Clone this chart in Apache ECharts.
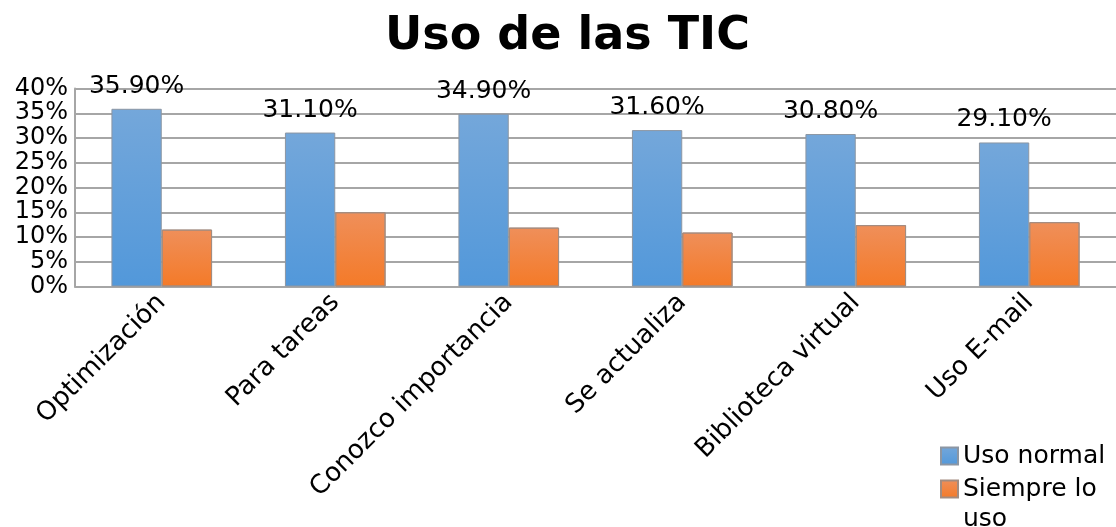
<!DOCTYPE html>
<html>
<head>
<meta charset="utf-8">
<script src="https://cdn.jsdelivr.net/npm/echarts@6/dist/echarts.min.js"></script>
<style>
  html, body { margin: 0; padding: 0; background: #fff; }
  #chart { width: 1116px; height: 527px; }
</style>
</head>
<body>
<div id="chart"></div>
<script>
// datos
const categorias = ['Optimización', 'Para tareas', 'Conozco importancia', 'Se actualiza', 'Biblioteca virtual', 'Uso E-mail']
const usoNormal = [35.9, 31.1, 34.9, 31.6, 30.8, 29.1]
const siempreUso = [11.5, 15.0, 11.9, 10.9, 12.4, 13.0]
const ticksY = [0, 5, 10, 15, 20, 25, 30, 35, 40]

const fuente = 'DejaVu Sans'
const myChart = echarts.init(document.getElementById('chart'))

// degradado de las barras
function degradado (arriba, abajo) {
  return new echarts.graphic.LinearGradient(0, 0, 0, 1, [
    { offset: 0, color: arriba },
    { offset: 1, color: abajo }
  ])
}

// leyenda: una por serie para poder apilarlas
function leyenda (nombre, top) {
  return {
    orient: 'vertical',
    left: 935,
    top: top,
    itemWidth: 17,
    itemHeight: 17,
    itemGap: 0,
    icon: 'rect',
    data: [nombre],
    // linea vacia arriba para que el cuadro quede en la primera linea
    formatter: function (name) {
      return name === 'Siempre lo uso' ? '\nSiempre lo\nuso' : name
    },
    textStyle: { fontFamily: fuente, fontSize: 25, color: '#000', lineHeight: 30 }
  }
}

const option = {
  backgroundColor: '#fff',
  textStyle: { fontFamily: fuente },
  title: {
    text: 'Uso de las TIC',
    left: 380,
    top: 9,
    textStyle: { fontFamily: fuente, fontSize: 46, fontWeight: 'bold', color: '#000' }
  },
  legend: [
    leyenda('Uso normal', 436),
    leyenda('Siempre lo uso', 439)
  ],
  grid: {
    left: 75,
    right: 0,
    top: 88.5,
    bottom: 240.5,
    outerBoundsMode: 'none'
  },
  xAxis: {
    type: 'category',
    data: categorias,
    axisLine: { lineStyle: { color: '#a6a6a6', width: 2 } },
    axisTick: { show: false },
    axisLabel: {
      rotate: 45,
      interval: 0,
      margin: 12,
      fontFamily: fuente,
      fontSize: 26,
      color: '#000'
    }
  },
  yAxis: {
    type: 'value',
    min: ticksY[0],
    max: ticksY[ticksY.length - 1],
    interval: 5,
    axisLine: { show: true, lineStyle: { color: '#a6a6a6', width: 2 } },
    axisTick: { show: false },
    splitLine: { lineStyle: { color: '#a6a6a6', width: 2 } },
    axisLabel: {
      margin: 7,
      fontFamily: fuente,
      fontSize: 24,
      color: '#000',
      formatter: '{value}%'
    }
  },
  series: [
    {
      name: 'Uso normal',
      type: 'bar',
      data: usoNormal,
      barGap: '0%',
      barCategoryGap: '42%',
      itemStyle: {
        color: degradado('#74a7da', '#5298da'),
        borderColor: '#8c96a3',
        borderWidth: 1
      },
      label: {
        show: true,
        position: 'top',
        distance: 10,
        fontFamily: fuente,
        fontSize: 25,
        color: '#000',
        formatter: function (p) { return p.value.toFixed(2) + '%' }
      }
    },
    {
      name: 'Siempre lo uso',
      type: 'bar',
      data: siempreUso,
      itemStyle: {
        color: degradado('#ef8f5a', '#f47a28'),
        borderColor: '#a38c80',
        borderWidth: 1
      }
    }
  ]
}
myChart.setOption(option)
</script>
</body>
</html>
